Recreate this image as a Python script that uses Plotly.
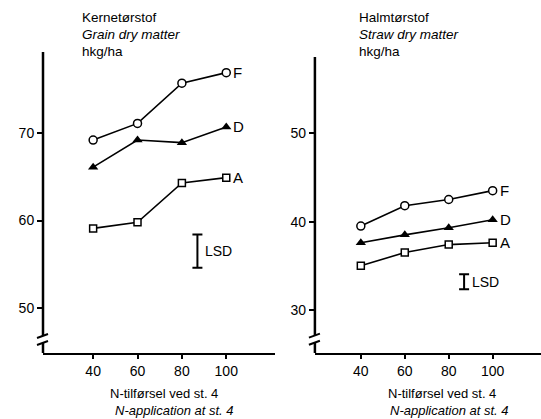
import plotly.graph_objects as go

n_levels = [40, 60, 80, 100]
series_names = ["F", "D", "A"]

grain_F = [69.2, 71.1, 75.7, 76.9]
grain_D = [66.1, 69.2, 68.9, 70.7]
grain_A = [59.1, 59.8, 64.3, 64.9]
grain_lsd = 3.8
grain_lsd_center = 56.5

straw_F = [39.5, 41.8, 42.5, 43.5]
straw_D = [37.6, 38.5, 39.3, 40.2]
straw_A = [35.0, 36.5, 37.4, 37.6]
straw_lsd = 1.7
straw_lsd_center = 33.2

lsd_x = 87

grain_ticks = [50, 60, 70]
straw_ticks = [30, 40, 50]
x_ticks = [40, 60, 80, 100]

FONT = "Liberation Sans, Arial, Helvetica, sans-serif"

fig = go.Figure()

markers = {
    "F": dict(symbol="circle", size=8, color="white", line=dict(width=1.5, color="black")),
    "D": dict(symbol="triangle-up", size=9, color="black", line=dict(width=0)),
    "A": dict(symbol="square", size=7, color="white", line=dict(width=1.5, color="black")),
}

def add_panel(xa, ya, data, lsd, lsd_c):
    for name, vals in zip(series_names, data):
        fig.add_trace(go.Scatter(
            x=n_levels, y=vals, mode="lines+markers",
            line=dict(color="black", width=1.6),
            marker=markers[name], xaxis=xa, yaxis=ya, showlegend=False, cliponaxis=False))
        fig.add_annotation(x=n_levels[-1], y=vals[-1], xref=xa, yref=ya,
                           text=name, showarrow=False, xanchor="left",
                           xshift=5, font=dict(family=FONT, size=15, color="black"))
    fig.add_trace(go.Scatter(
        x=[lsd_x], y=[lsd_c], mode="markers", marker=dict(size=1, color="rgba(0,0,0,0)"),
        error_y=dict(type="constant", value=lsd / 2, color="black", thickness=2, width=5),
        xaxis=xa, yaxis=ya, showlegend=False))
    fig.add_annotation(x=lsd_x, y=lsd_c, xref=xa, yref=ya, text="LSD",
                       showarrow=False, xanchor="left", xshift=6,
                       font=dict(family=FONT, size=14, color="black"))

add_panel("x", "y", [grain_F, grain_D, grain_A], grain_lsd, grain_lsd_center)
add_panel("x2", "y2", [straw_F, straw_D, straw_A], straw_lsd, straw_lsd_center)

tick_common = dict(showgrid=False, zeroline=False, ticks="outside",
                   tickwidth=1.5, tickcolor="black",
                   tickfont=dict(family=FONT, size=14, color="black"))

fig.update_layout(
    width=541, height=419,
    margin=dict(l=43, r=0, t=52, b=66),
    paper_bgcolor="white", plot_bgcolor="white",
    xaxis=dict(domain=[0, 0.466], range=[17.4, 122], tickvals=x_ticks,
               showline=True, linecolor="black", linewidth=2, anchor="y",
               ticklen=4, **tick_common),
    yaxis=dict(domain=[0, 1], range=[44.86, 79.26], tickvals=grain_ticks,
               showline=False, anchor="x", ticklen=5, **tick_common),
    xaxis2=dict(domain=[0.546, 1], range=[19.1, 122], tickvals=x_ticks,
                showline=True, linecolor="black", linewidth=2, anchor="y2",
                ticklen=4, **tick_common),
    yaxis2=dict(domain=[0, 0.983], range=[25.14, 58.6], tickvals=straw_ticks,
                showline=False, anchor="x2", ticklen=5, **tick_common),
)

# y-axis lines with a break near the bottom
for xa, ya, top, bot, brk_hi, brk_lo in [("x", "y", 79.26, 44.86, 46.8, 46.0),
                                          ("x2", "y2", 58.6, 25.14, 27.1, 26.3)]:
    xr = xa + " domain"
    fig.add_shape(type="line", xref=xr, yref=ya, x0=0, x1=0, y0=brk_hi, y1=top,
                  line=dict(color="black", width=2.5))
    fig.add_shape(type="line", xref=xr, yref=ya, x0=0, x1=0, y0=bot, y1=brk_lo,
                  line=dict(color="black", width=2.5))
    for yv in (brk_hi, brk_lo):
        fig.add_shape(type="path", xref=xr, yref=ya,
                      xsizemode="pixel", ysizemode="pixel", xanchor=0, yanchor=yv,
                      path="M -6,-2 L 5,2", line=dict(color="black", width=2))

def title_block(xpaper, lines):
    ys = [17, 34, 51]
    for (txt, ital), yp in zip(lines, ys):
        fig.add_annotation(xref="paper", yref="paper", x=xpaper, y=1 + (52 - yp) / 301,
                           text=f"<i>{txt}</i>" if ital else txt, showarrow=False,
                           xanchor="left", yanchor="middle",
                           font=dict(family=FONT, size=13.5, color="black"))

title_block((80 - 43) / 498, [("Kernetørstof", False), ("Grain dry matter", True), ("hkg/ha", False)])
title_block((357 - 43) / 498, [("Halmtørstof", False), ("Straw dry matter", True), ("hkg/ha", False)])

def xtitle(c1, c2):
    fig.add_annotation(xref="paper", yref="paper", x=(c1 - 43) / 498, y=-(393 - 353) / 301,
                       text="N-tilførsel ved st. 4", showarrow=False,
                       xanchor="center", yanchor="middle",
                       font=dict(family=FONT, size=13, color="black"))
    fig.add_annotation(xref="paper", yref="paper", x=(c2 - 43) / 498, y=-(410 - 353) / 301,
                       text="<i>N-application at st. 4</i>", showarrow=False,
                       xanchor="center", yanchor="middle",
                       font=dict(family=FONT, size=13, color="black"))

xtitle(164, 174)
xtitle(442, 449)

fig.write_html("out.html")
